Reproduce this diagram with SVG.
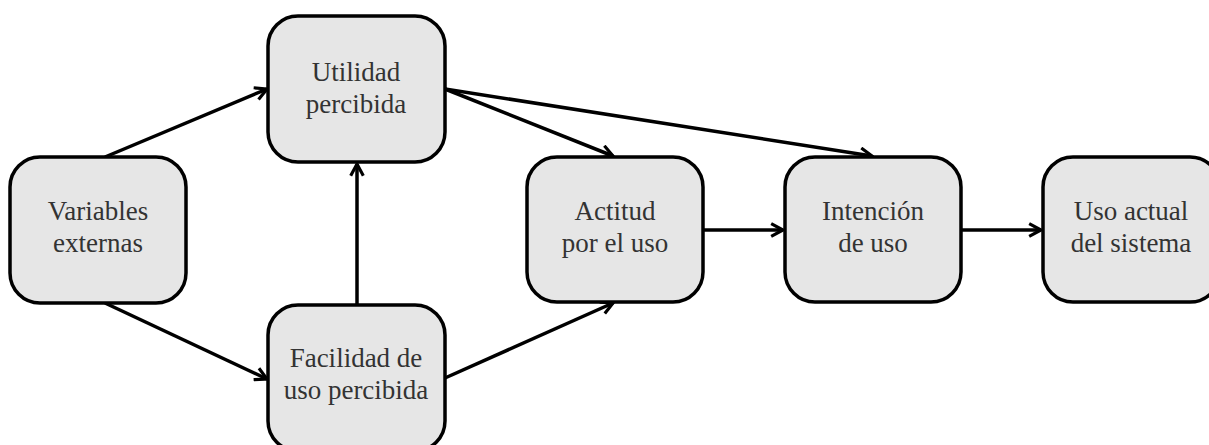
<svg xmlns="http://www.w3.org/2000/svg" width="1209" height="445" viewBox="0 0 1209 445">
<defs>
<style>
.box{fill:#e6e6e6;stroke:#000;stroke-width:3.5}
.lbl{font-family:'Liberation Serif','Times New Roman',serif;font-size:27px;fill:#333;text-anchor:middle}
.edge{stroke:#000;stroke-width:3.5;fill:none;marker-end:url(#ah)}
</style>
<marker id="ah" viewBox="0 0 10 10" refX="9" refY="5" markerWidth="4.5" markerHeight="4.5" orient="auto" markerUnits="strokeWidth">
<path d="M1.5,1 L9,5 L1.5,9" fill="none" stroke="#000" stroke-width="2"/>
</marker>
</defs>
<rect width="1209" height="445" fill="#fff"/>
<g id="connectors">
<line class="edge" x1="105" y1="157" x2="267" y2="89"/>
<line class="edge" x1="105" y1="303" x2="267" y2="379"/>
<line class="edge" x1="357" y1="305" x2="357" y2="164"/>
<line class="edge" x1="445" y1="89" x2="613" y2="156"/>
<line class="edge" x1="445" y1="89" x2="872" y2="156"/>
<line class="edge" x1="445" y1="378" x2="613" y2="303"/>
<line class="edge" x1="703" y1="230" x2="783" y2="230"/>
<line class="edge" x1="961" y1="230" x2="1041" y2="230"/>
</g>
<g id="n-variables">
<rect class="box" x="10" y="157" width="176" height="146" rx="30"/>
<text class="lbl" x="98" y="220">Variables</text>
<text class="lbl" x="98" y="252">externas</text>
</g>
<g id="n-utilidad">
<rect class="box" x="268" y="16" width="177" height="146" rx="30"/>
<text class="lbl" x="356" y="81">Utilidad</text>
<text class="lbl" x="356" y="113">percibida</text>
</g>
<g id="n-facilidad">
<rect class="box" x="268" y="305" width="177" height="146" rx="30"/>
<text class="lbl" x="356" y="367">Facilidad de</text>
<text class="lbl" x="356" y="399">uso percibida</text>
</g>
<g id="n-actitud">
<rect class="box" x="527" y="157" width="176" height="145" rx="30"/>
<text class="lbl" x="615" y="220">Actitud</text>
<text class="lbl" x="615" y="252">por el uso</text>
</g>
<g id="n-intencion">
<rect class="box" x="785" y="157" width="176" height="145" rx="30"/>
<text class="lbl" x="873" y="220">Intención</text>
<text class="lbl" x="873" y="252">de uso</text>
</g>
<g id="n-uso">
<rect class="box" x="1043" y="157" width="177" height="145" rx="30"/>
<text class="lbl" x="1131" y="220">Uso actual</text>
<text class="lbl" x="1131" y="252">del sistema</text>
</g>
</svg>
